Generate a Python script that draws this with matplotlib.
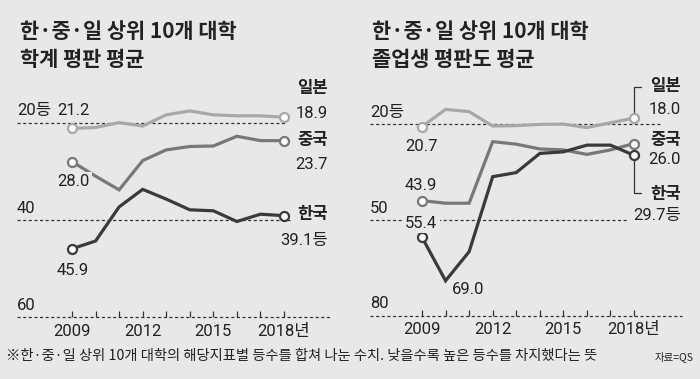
import numpy as np
import matplotlib.pyplot as plt

# data (rank averages, lower = better)
years = list(range(2009, 2019))

jp_acad = [21.2, 21.0, 20.0, 20.7, 18.4, 17.6, 18.4, 18.6, 18.6, 18.9]
cn_acad = [28.0, 31.0, 33.8, 27.8, 25.6, 24.9, 24.8, 22.8, 23.7, 23.7]
kr_acad = [45.9, 44.3, 37.3, 33.7, 35.7, 37.9, 38.1, 40.3, 38.8, 39.1]

jp_emp = [20.7, 15.3, 16.0, 20.5, 20.4, 20.0, 19.9, 21.0, 19.5, 18.0]
cn_emp = [43.9, 44.7, 44.7, 25.4, 26.2, 27.7, 28.0, 29.4, 28.0, 26.0]
kr_emp = [55.4, 69.0, 59.9, 36.4, 35.1, 29.1, 28.6, 26.5, 26.5, 29.7]

tick_years = [2009, 2012, 2015, 2018]
tick_labels = ['2009', '2012', '2015', '2018년']

bg = '#e8e8e8'
c_jp, c_cn, c_kr = '#a8a8a8', '#787878', '#3a3a3a'
txt = '#222222'
KR = ['Noto Sans CJK KR', 'DejaVu Sans']
NUM = ['Roboto', 'Noto Sans CJK KR', 'DejaVu Sans']

fig = plt.figure(figsize=(7, 3.79), dpi=100, facecolor=bg)


def panel(rect, ylim, series, grid, start_lbl, end_lbl, leaders=None):
    ax = fig.add_axes(rect)
    ax.set_facecolor(bg)
    ax.set_xlim(2005.943, 2020.801)
    ax.set_ylim(*ylim)
    ax.axis('off')

    # dashed reference lines with labels
    for val, x0, x1, lab in grid:
        ax.hlines(val, x0, x1, colors='#333333', lw=0.9, linestyles=(0, (2.5, 2)), zorder=1)
        ax.annotate(lab, (x0, val), xytext=(0, 12), textcoords='offset pixels',
                    ha='left', va='center', fontsize=12, family=NUM, color=txt)
    base = grid[-1][0]
    ax.plot(years, [base] * len(years), ls='none', marker=2, ms=4.5, mew=0.9,
            color='#333333', zorder=1)
    for yr, lab in zip(tick_years, tick_labels):
        ax.annotate(lab, (yr, base), xytext=(0, -14), textcoords='offset pixels',
                    ha='center', va='center', fontsize=12, family=NUM, color=txt)

    for vals, col in series:
        ax.plot(years, vals, color=col, lw=2.3, zorder=3, solid_joinstyle='miter')
        ax.plot([years[0], years[-1]], [vals[0], vals[-1]], ls='none', marker='o',
                ms=6.5, mfc='white', mec=col, mew=1.6, zorder=4)

    for (x, y, lab, dx, dy, ha) in start_lbl:
        ax.annotate(lab, (x, y), xytext=(dx, dy), textcoords='offset pixels',
                    ha=ha, va='center', fontsize=12, family=NUM, color=txt, zorder=5,
                    bbox=dict(boxstyle='square,pad=0.15', fc=bg, ec='none'))

    for (y, name, dn, num, dv) in end_lbl:
        ax.annotate(name, (years[-1], y), xytext=dn, textcoords='offset pixels',
                    ha='right', va='center', fontsize=12, family=KR, weight='bold', color=txt)
        ax.annotate(num, (years[-1], y), xytext=dv, textcoords='offset pixels',
                    ha='right', va='center', fontsize=12, family=NUM, color=txt)

    # bracket leaders from end markers to labels
    for y, dy in (leaders or []):
        ax.annotate('', (years[-1], y), xytext=(7, dy), textcoords='offset pixels',
                    arrowprops=dict(arrowstyle='-', color='#333333', lw=0.9,
                                    connectionstyle='angle,angleA=0,angleB=90,rad=0',
                                    shrinkA=0, shrinkB=2.6))
    return ax


# left: academic reputation
panel([0, 49 / 379, 0.5, 260 / 379], (62.57, 9.2),
      [(jp_acad, c_jp), (cn_acad, c_cn), (kr_acad, c_kr)],
      [(20, 2006.665, 2018.13, '20등'), (40, 2006.665, 2018.25, '40'),
       (60, 2006.665, 2019.95, '60')],
      [(years[0], jp_acad[0], f'{jp_acad[0]:.1f}', 1, 18, 'center'),
       (years[0], cn_acad[0], f'{cn_acad[0]:.1f}', 1, -20, 'center'),
       (years[0], kr_acad[0], f'{kr_acad[0]:.1f}', 1, -22, 'center')],
      [(jp_acad[-1], '일본', (44, 29), f'{jp_acad[-1]:.1f}', (44, 4)),
       (cn_acad[-1], '중국', (44, 1), f'{cn_acad[-1]:.1f}', (44, -24)),
       (kr_acad[-1], '한국', (44, 2), f'{kr_acad[-1]:.1f}등', (44, -25))])

# right: employer reputation
panel([0.5, 49 / 379, 0.5, 260 / 379], (84.45, 2.95),
      [(jp_emp, c_jp), (cn_emp, c_cn), (kr_emp, c_kr)],
      [(20, 2006.79, 2019.10, '20등'), (50, 2006.79, 2017.70, '50'),
       (80, 2006.79, 2020.04, '80')],
      [(years[0], jp_emp[0], f'{jp_emp[0]:.1f}', -1, -20, 'center'),
       (years[0], cn_emp[0], f'{cn_emp[0]:.1f}', -1, 15, 'center'),
       (years[0], kr_emp[0], f'{kr_emp[0]:.1f}', -1, 14, 'center'),
       (years[1], kr_emp[1], f'{kr_emp[1]:.1f}', 6, -9, 'left')],
      [(jp_emp[-1], '일본', (47, 32), f'{jp_emp[-1]:.1f}', (47, 9)),
       (cn_emp[-1], '중국', (47, 4), f'{cn_emp[-1]:.1f}', (47, -16)),
       (kr_emp[-1], '한국', (47, -39), f'{kr_emp[-1]:.1f}등', (47, -60))],
      leaders=[(jp_emp[-1], 31), (kr_emp[-1], -38)])

# titles
fig.text(20 / 700, 1 - 31 / 379, '한·중·일 상위 10개 대학', fontsize=15, weight='bold',
         family=KR, color=txt, va='center', ha='left')
fig.text(20 / 700, 1 - 59 / 379, '학계 평판 평균', fontsize=15, weight='bold',
         family=KR, color=txt, va='center', ha='left')
fig.text(372 / 700, 1 - 31 / 379, '한·중·일 상위 10개 대학', fontsize=15, weight='bold',
         family=KR, color=txt, va='center', ha='left')
fig.text(372 / 700, 1 - 59 / 379, '졸업생 평판도 평균', fontsize=15, weight='bold',
         family=KR, color=txt, va='center', ha='left')

# footnote
fig.text(6 / 700, 1 - 356 / 379,
         '※한·중·일 상위 10개 대학의 해당지표별 등수를 합쳐 나눈 수치. 낮을수록 높은 등수를 차지했다는 뜻',
         fontsize=10.3, family=KR, color=txt, va='center', ha='left')
fig.text(694 / 700, 1 - 357 / 379, '자료=QS', fontsize=7.5, family=KR, color=txt,
         va='center', ha='right')

fig.savefig('out.png', dpi=100, facecolor=bg)
